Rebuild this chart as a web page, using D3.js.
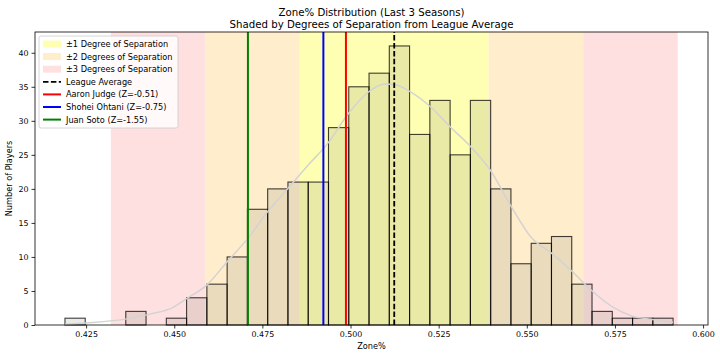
<!DOCTYPE html>
<html>
<head>
<meta charset="utf-8">
<script src="https://cdn.jsdelivr.net/npm/d3@7"></script>
<style>
  body { margin: 0; background: #fff; }
  svg { font-family: "DejaVu Sans", sans-serif; }
</style>
</head>
<body>
<div id="chart"></div>
<script>
// histogram bins (edges) and player counts per bin
var binEdges = [0.4190, 0.42475, 0.4305, 0.43625, 0.4420, 0.44775, 0.4535, 0.45925, 0.4650, 0.47075,
  0.4765, 0.48225, 0.4880, 0.49375, 0.4995, 0.50525, 0.5110, 0.51675, 0.5225, 0.52825,
  0.5340, 0.53975, 0.5455, 0.55125, 0.5570, 0.56275, 0.5685, 0.57425, 0.5800, 0.58575, 0.5915];
var binCounts = [1, 0, 0, 2, 0, 1, 4, 6, 10, 17, 20, 21, 21, 29, 35, 37, 41, 28, 33, 25,
  33, 20, 9, 12, 13, 6, 2, 1, 1, 1];

// smooth density curve (in count units)
var kdeX = [0.4190, 0.4250, 0.4366, 0.4431, 0.4497, 0.4536, 0.4593, 0.4650, 0.4710, 0.4764,
  0.4823, 0.4880, 0.4937, 0.4993, 0.5050, 0.5098, 0.5127, 0.5169, 0.5226, 0.5283,
  0.5339, 0.5396, 0.5456, 0.5512, 0.5569, 0.5626, 0.5683, 0.5742, 0.5799, 0.5856, 0.5915];
var kdeY = [0.1, 0.3, 0.9, 1.6, 2.6, 3.9, 5.9, 9.3, 12.8, 16.6,
  20.1, 23.5, 26.8, 31.0, 34.2, 35.4, 35.3, 34.3, 32.1, 29.1,
  26.3, 22.8, 17.4, 12.9, 10.6, 8.0, 5.1, 2.7, 1.3, 0.8, 0.4];

var leagueAvg = 0.5124;
var leagueSd = 0.0268;

var bandLevels = [1, 2, 3];
var bandLabels = ["\u00b11 Degree of Separation", "\u00b12 Degrees of Separation", "\u00b13 Degrees of Separation"];
var bandColors = ["#ffffb3", "#ffedcc", "#ffe0e0"];

var playerNames = ["Aaron Judge", "Shohei Ohtani", "Juan Soto"];
var playerZ = [-0.51, -0.75, -1.55];
var playerZone = [0.4987, 0.4923, 0.4709];
var playerColors = ["#ff0000", "#0000ff", "#008000"];

var xTicks = [0.425, 0.450, 0.475, 0.500, 0.525, 0.550, 0.575, 0.600];
var yTicks = [0, 5, 10, 15, 20, 25, 30, 35, 40];

var W = 720, H = 358;
var margin = {top: 32, right: 12, bottom: 33, left: 35};

var svg = d3.select("#chart").append("svg")
  .attr("width", W).attr("height", H);

var x = d3.scaleLinear().domain([0.4105, 0.6014]).range([margin.left, W - margin.right]);
var y = d3.scaleLinear().domain([0, 43.05]).range([H - margin.bottom, margin.top]);

var plot = svg.append("g");
var plotTop = y.range()[1], plotBottom = y.range()[0];

// shaded bands, drawn as separate strips that do not overlap
bandLevels.forEach(function(k, i) {
  var lo = leagueAvg - k * leagueSd, hi = leagueAvg + k * leagueSd;
  var strips;
  if (k === 1) {
    strips = [[lo, hi]];
  } else {
    var inLo = leagueAvg - (k - 1) * leagueSd, inHi = leagueAvg + (k - 1) * leagueSd;
    strips = [[lo, inLo], [inHi, hi]];
  }
  strips.forEach(function(s) {
    plot.append("rect").attr("x", x(s[0])).attr("y", plotTop)
      .attr("width", x(s[1]) - x(s[0])).attr("height", plotBottom - plotTop)
      .attr("fill", bandColors[i]);
  });
});

// histogram bars
binCounts.forEach(function(c, i) {
  if (c === 0) return;
  plot.append("rect")
    .attr("x", x(binEdges[i]))
    .attr("y", y(c))
    .attr("width", x(binEdges[i + 1]) - x(binEdges[i]))
    .attr("height", y(0) - y(c))
    .attr("fill", "#808070").attr("fill-opacity", 0.17)
    .attr("stroke", "#000").attr("stroke-opacity", 0.75).attr("stroke-width", 1.1);
});

// density curve
var kde = kdeX.map(function(v, i) { return [v, kdeY[i]]; });
plot.append("path")
  .datum(kde)
  .attr("fill", "none")
  .attr("stroke", "#d3d3d3")
  .attr("stroke-width", 1.5)
  .attr("d", d3.line()
    .x(function(d) { return x(d[0]); })
    .y(function(d) { return y(d[1]); })
    .curve(d3.curveMonotoneX));

// league average + players
plot.append("line")
  .attr("x1", x(leagueAvg)).attr("x2", x(leagueAvg))
  .attr("y1", plotBottom).attr("y2", plotTop)
  .attr("stroke", "#000").attr("stroke-width", 1.8)
  .attr("stroke-dasharray", "5.5,2.4");

playerZone.forEach(function(v, i) {
  plot.append("line")
    .attr("x1", x(v)).attr("x2", x(v))
    .attr("y1", plotBottom).attr("y2", plotTop)
    .attr("stroke", playerColors[i]).attr("stroke-width", 2);
});

// axes
var xAxis = svg.append("g")
  .attr("transform", "translate(0," + plotBottom + ")")
  .call(d3.axisBottom(x).tickValues(xTicks).tickFormat(d3.format(".3f")).tickSize(3.5).tickPadding(3));
var yAxis = svg.append("g")
  .attr("transform", "translate(" + x.range()[0] + ",0)")
  .call(d3.axisLeft(y).tickValues(yTicks).tickSize(3.5).tickPadding(3));
[xAxis, yAxis].forEach(function(a) {
  a.select(".domain").remove();
  a.selectAll("text").attr("font-size", 7.9).attr("font-family", "DejaVu Sans").attr("fill", "#000");
  a.selectAll("line").attr("stroke", "#000").attr("stroke-width", 0.8);
});

// frame
svg.append("rect")
  .attr("x", x.range()[0]).attr("y", plotTop)
  .attr("width", x.range()[1] - x.range()[0])
  .attr("height", plotBottom - plotTop)
  .attr("fill", "none").attr("stroke", "#000").attr("stroke-width", 0.8);

// titles and labels
var cx = (x.range()[0] + x.range()[1]) / 2;
svg.append("text").attr("x", cx).attr("y", 15.5).attr("text-anchor", "middle")
  .attr("font-size", 10.2).text("Zone% Distribution (Last 3 Seasons)");
svg.append("text").attr("x", cx).attr("y", 28).attr("text-anchor", "middle")
  .attr("font-size", 10.2).text("Shaded by Degrees of Separation from League Average");
svg.append("text").attr("x", cx).attr("y", 349).attr("text-anchor", "middle")
  .attr("font-size", 8.2).text("Zone%");
svg.append("text")
  .attr("transform", "translate(12," + ((plotBottom + plotTop) / 2) + ") rotate(-90)")
  .attr("text-anchor", "middle").attr("font-size", 8.2).text("Number of Players");

// legend
var leg = svg.append("g");
leg.append("rect")
  .attr("x", 39).attr("y", 36).attr("width", 139).attr("height", 92).attr("rx", 2)
  .attr("fill", "#fff").attr("fill-opacity", 0.8)
  .attr("stroke", "#ccc").attr("stroke-width", 0.8);

var legItems = [];
bandLabels.forEach(function(l, i) { legItems.push({type: "patch", label: l, color: bandColors[i]}); });
legItems.push({type: "dash", label: "League Average", color: "#000"});
playerNames.forEach(function(n, i) {
  legItems.push({type: "line", label: n + " (Z=" + playerZ[i].toFixed(2) + ")", color: playerColors[i]});
});

legItems.forEach(function(it, i) {
  var cy = 44 + i * 12.6;
  if (it.type === "patch") {
    leg.append("rect").attr("x", 43).attr("y", cy - 3.5).attr("width", 18).attr("height", 7)
      .attr("fill", it.color);
  } else {
    leg.append("line").attr("x1", 43).attr("x2", 61).attr("y1", cy).attr("y2", cy)
      .attr("stroke", it.color).attr("stroke-width", it.type === "dash" ? 1.8 : 2)
      .attr("stroke-dasharray", it.type === "dash" ? "5.5,2.4" : null);
  }
  leg.append("text").attr("x", 66).attr("y", cy + 3)
    .attr("font-size", 8.2).text(it.label);
});
</script>
</body>
</html>
